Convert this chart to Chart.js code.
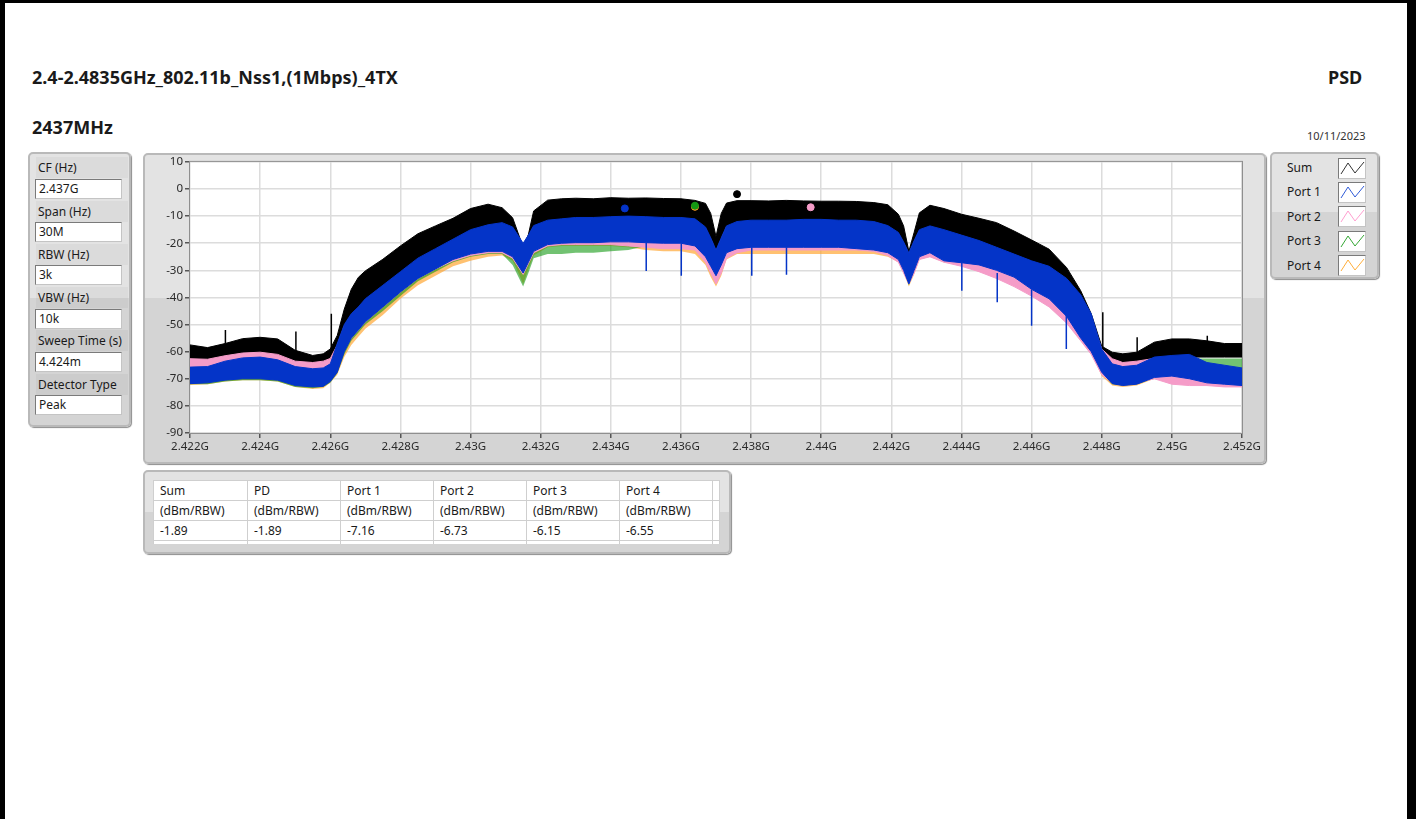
<!DOCTYPE html>
<html>
<head>
<meta charset="utf-8">
<script src="https://cdn.jsdelivr.net/npm/chart.js@4.4.0/dist/chart.umd.min.js"></script>
<style>
  body { margin: 0; background: #fff; font-family: "Noto Sans", sans-serif; color: #1a1a1a; }
  #page { position: relative; width: 1416px; height: 819px; overflow: hidden; background: #fff; }
  .bar { position: absolute; background: #000; }
  .txt { position: absolute; white-space: nowrap; line-height: 20px; height: 20px; }
  .big { font-weight: bold; font-size: 18px; }
  .panel { position: absolute; box-sizing: border-box; border: 2px solid #b9b9b9; border-radius: 5px;
           box-shadow: 1px 1px 1px #8c8c8c; }
  .lbl { position: absolute; left: 6px; width: 90px; height: 21px; line-height: 21px; font-size: 12px; padding-left: 2px;
         background: rgba(0,0,0,0.035); }
  .val { position: absolute; left: 5px; width: 87px; height: 20px; box-sizing: border-box; background: #fff;
         border: 1px solid #7a7a7a; border-right-color: #c4c4c4; border-bottom-color: #c4c4c4;
         font-size: 12px; line-height: 18px; padding-left: 3px; }
  .leg { position: absolute; left: 15px; font-size: 12px; line-height: 20px; }
  .sw { position: absolute; left: 66px; width: 28px; height: 21px; box-sizing: border-box; background: #fff;
        border: 1px solid #7a7a7a; border-right-color: #c4c4c4; border-bottom-color: #c4c4c4; }
  table { position: absolute; left: 8px; top: 8px; border-collapse: collapse; background: #fff; font-size: 12px; }
  td { border: 1px solid #cfcfcf; height: 20px; padding: 0 0 0 6px; line-height: 19px; box-sizing: border-box; }
  #psd { position: absolute; left: 143px; top: 153px; }
</style>
</head>
<body>
<div id="page">
  <div class="bar" style="left:0;top:0;width:1416px;height:3px"></div>
  <div class="bar" style="left:0;top:0;width:5px;height:819px"></div>
  <div class="bar" style="left:1407px;top:0;width:9px;height:819px"></div>

  <div class="txt big" style="left:32px;top:67px">2.4-2.4835GHz_802.11b_Nss1,(1Mbps)_4TX</div>
  <div class="txt big" style="left:1328px;top:67px">PSD</div>
  <div class="txt big" style="left:32px;top:117px">2437MHz</div>
  <div class="txt" style="left:1307px;top:126px;font-size:11px;color:#333">10/11/2023</div>

  <!-- settings panel -->
  <div class="panel" style="left:28px;top:152px;width:103px;height:275px;background:linear-gradient(#e3e3e3 0,#e3e3e3 144px,#d4d4d4 144px)">
    <div class="lbl" style="top:3px">CF (Hz)</div>
    <div class="val" style="top:25px">2.437G</div>
    <div class="lbl" style="top:47px">Span (Hz)</div>
    <div class="val" style="top:68px">30M</div>
    <div class="lbl" style="top:90px">RBW (Hz)</div>
    <div class="val" style="top:111px">3k</div>
    <div class="lbl" style="top:133px">VBW (Hz)</div>
    <div class="val" style="top:155px">10k</div>
    <div class="lbl" style="top:176px">Sweep Time (s)</div>
    <div class="val" style="top:198px">4.424m</div>
    <div class="lbl" style="top:220px">Detector Type</div>
    <div class="val" style="top:241px">Peak</div>
  </div>

  <!-- graph panel -->
  <div class="panel" style="left:143px;top:153px;width:1123px;height:311px;background:linear-gradient(#e3e3e3 0,#e3e3e3 143px,#d4d4d4 143px)"></div>
  <canvas id="psd" width="1122" height="310"></canvas>

  <!-- legend panel -->
  <div class="panel" style="left:1270px;top:152px;width:109px;height:127px;background:linear-gradient(#e3e3e3 0,#e3e3e3 58px,#d4d4d4 58px)" id="legend"></div>

  <!-- peak table -->
  <div class="panel" style="left:143px;top:470px;width:588px;height:84px;background:linear-gradient(#e3e3e3 0,#e3e3e3 40px,#d4d4d4 40px)">
    <table id="peaks"></table>
  </div>
</div>

<script>
// frequency axis (GHz) and envelopes (dBm)
const FREQ = [
  2.422, 2.4225, 2.423, 2.4235, 2.424, 2.4245, 2.425, 2.4255,
  2.4258, 2.426, 2.4262, 2.4264, 2.4266, 2.4268, 2.427,
  2.4275, 2.428, 2.4285, 2.429, 2.4295, 2.430, 2.4305,
  2.4309, 2.4312, 2.43135, 2.4315, 2.43165, 2.4318,
  2.4322, 2.4326, 2.433, 2.4335, 2.434, 2.4345, 2.435, 2.4355, 2.436,
  2.4364, 2.4367, 2.43685, 2.437, 2.43715, 2.4373, 2.4376,
  2.438, 2.4385, 2.439, 2.4395, 2.440, 2.4405, 2.441, 2.4415,
  2.4419, 2.4422, 2.44235, 2.4425, 2.44265, 2.4428, 2.4431, 2.4435,
  2.444, 2.4445, 2.445, 2.4455, 2.446, 2.4465, 2.447,
  2.4474, 2.4477, 2.448, 2.4483, 2.4486, 2.449,
  2.4495, 2.450, 2.4505, 2.451, 2.4515, 2.452
];

const SUM_TOP = [
  -57.5, -58.5, -57, -55.2, -54.7, -55.3, -59.5, -61.4,
  -60.8, -59, -54, -44.3, -37, -32.6, -30.2,
  -25.9, -21, -16.5, -13.6, -10.8, -7.2, -5.6,
  -6.9, -10.6, -16, -21.5, -16.8, -8.1,
  -4.1, -3.6, -3.4, -3.6, -3.2, -3.4, -3.3, -3.5, -3.6,
  -4.2, -5.3, -9, -17.5, -9, -5.2, -4.3,
  -4.3, -4.4, -4.2, -4.4, -4.5, -4.5, -4.6, -5.0,
  -5.8, -9.3, -13.6, -23, -16, -8.8, -6.0, -7.2,
  -9.3, -10.8, -12.4, -15.5, -18.8, -22.2, -29,
  -37.5, -46, -58, -60.2, -60.8, -60.2,
  -56.5, -55.3, -55.3, -56, -57, -57
];
const SUM_BOT = [
  -68.7, -68.5, -66.5, -65.3, -65, -66, -68.5, -69.3,
  -69, -67.5, -60, -53, -49, -46.5, -43.5,
  -38.5, -33.5, -28.5, -25, -21.5, -18, -16.2,
  -15.4, -17, -20, -23, -20, -16.5,
  -14.5, -14, -13.5, -13.5, -13.2, -13, -13.2, -13.5, -13.5,
  -14, -17, -21, -25.5, -21, -16.6, -15,
  -14.5, -14.5, -14.5, -14.2, -14.2, -14.5, -14.5, -15,
  -16.5, -19, -22.5, -26.6, -22, -18, -16.6, -18,
  -20, -22, -24.5, -27, -29.5, -31.5, -36,
  -42, -49, -62, -67.5, -68.5, -68,
  -63.5, -62.5, -62, -62, -62, -62
];
const P1_TOP = [
  -65.7, -65.5, -63.5, -62.3, -62, -63, -65.5, -66.3,
  -66, -64.5, -57, -50, -46, -43.5, -40.5,
  -35.5, -30.5, -25.5, -22, -18.5, -15, -13.2,
  -12.4, -14, -17, -20, -17, -13.5,
  -11.5, -11, -10.5, -10.5, -10.2, -10, -10.2, -10.5, -10.5,
  -11, -14, -18, -22.5, -18, -13.6, -12,
  -11.5, -11.5, -11.5, -11.2, -11.2, -11.5, -11.5, -12,
  -13.5, -16, -19.5, -23.6, -19, -15, -13.6, -15,
  -17, -19, -21.5, -24, -26.5, -28.5, -33,
  -39, -46, -59, -64.5, -65.5, -65,
  -62, -61.4, -61, -64, -65, -66
];
const P1_BOT = [
  -71.8, -71.5, -70.5, -70, -70, -70.5, -72.5, -73,
  -72.8, -71, -67.6, -60, -55, -52, -49,
  -43.5, -38, -33, -29.5, -26, -24, -23,
  -23, -25, -28, -31, -27, -23,
  -20.5, -20, -19.8, -19.8, -19.5, -19.5, -19.8, -20, -20,
  -21, -25, -28.5, -32, -28, -23.5, -22,
  -21.5, -21.5, -21.5, -21.5, -21.5, -21.5, -22, -22.5,
  -23.5, -26, -30, -35, -30, -25, -23.5, -26.5,
  -27.2, -28, -30, -32.5, -37, -40.5, -47,
  -55, -60, -67.6, -71.8, -72.5, -72,
  -69.5, -69, -70, -71.5, -72, -72.5
];
const P2_TOP = [
  -62.6, -62.8, -61.5, -60.5, -60.2, -61, -63.5, -64,
  -63.5, -62.5, -57.5, -50.5, -46.5, -44, -41,
  -36, -31, -26, -22.5, -19, -15.5, -13.8,
  -13, -14.5, -17.5, -20.5, -17.5, -14,
  -12, -11.5, -11, -11, -10.8, -10.6, -10.8, -11, -11,
  -11.5, -14.5, -18.5, -23, -18.5, -14, -12.5,
  -12, -12, -12, -11.8, -11.8, -12, -12, -12.5,
  -14, -16.5, -20, -24, -19.5, -15.5, -14, -15.5,
  -17.5, -19.5, -22, -24.5, -27.5, -30, -34.5,
  -40.5, -47.5, -59, -62.6, -64, -63.5,
  -62.5, -62, -63, -66, -66.5, -67
];
const P2_BOT = [
  -69, -69, -68.5, -68, -68, -68.5, -70, -70.5,
  -70, -69, -66, -59, -55, -52, -49,
  -43.5, -38, -33, -29.5, -26.5, -24.5, -23.5,
  -23.5, -25.5, -28.5, -31.5, -27.5, -23.5,
  -21, -20.5, -20.5, -20.5, -20.5, -21, -21.5, -22, -22,
  -22.5, -27, -31, -35, -31, -25.5, -23.5,
  -22.5, -22.5, -22.5, -22.5, -22.5, -22.5, -22.5, -23,
  -24.5, -27, -31, -35, -31, -26, -25, -27,
  -28.5, -30.5, -33, -36, -39.5, -43.5, -49.5,
  -56, -61, -68.5, -71.5, -72, -71.5,
  -70, -72, -72.5, -72.5, -73, -73
];
const P3_TOP = [
  -66.5, -66.5, -64.5, -63.5, -63, -64, -66.5, -67,
  -67, -65.5, -58, -51, -47, -44.5, -41.5,
  -36.5, -31.5, -26.5, -23, -19.5, -16, -14.2,
  -13.4, -15, -18, -21, -18, -14.5,
  -12.5, -12, -11.5, -11.5, -11.2, -11, -11.2, -11.5, -11.5,
  -12, -15, -19, -23.5, -19, -14.6, -13,
  -12.5, -12.5, -12.5, -12.2, -12.2, -12.5, -12.5, -13,
  -14.5, -17, -20.5, -24.6, -20, -16, -14.6, -16,
  -18, -20, -22.5, -25, -27.5, -29.5, -34,
  -40, -47, -60, -64.5, -65, -64,
  -63, -63, -62.5, -62.5, -62.5, -62.5
];
const P3_BOT = [
  -72, -72, -71, -70.5, -70.5, -71, -73, -73.5,
  -73, -71.5, -68, -61, -56, -53, -50,
  -45, -39.5, -34, -30.5, -27, -25, -24,
  -24, -28, -32, -36, -31, -25.5,
  -24, -24, -23.5, -23.5, -23, -22.5, -21, -21, -21,
  -22, -26, -29.5, -33, -29, -24.5, -22.5,
  -22, -22, -22, -22, -22, -22, -22.5, -23,
  -24, -26.5, -30.5, -35.5, -30.5, -25.5, -24, -27,
  -27.5, -28.5, -30.5, -33, -37.5, -41, -47.5,
  -55.5, -60.5, -68, -72, -72.5, -72,
  -70, -69.5, -70.5, -72, -72.5, -73
];
const P4_TOP = [
  -67, -67, -65, -64, -63.5, -64.5, -67, -67.5,
  -67.5, -66, -58.5, -51.5, -47.5, -45, -42,
  -37, -32, -27, -23.5, -20, -16.5, -14.7,
  -14, -15.5, -18.5, -21.5, -18.5, -15,
  -13, -12.5, -12, -12, -11.7, -11.5, -11.7, -12, -12,
  -12.5, -15.5, -19.5, -24, -19.5, -15, -13.5,
  -13, -13, -13, -12.7, -12.7, -13, -13, -13.5,
  -15, -17.5, -21, -25, -20.5, -16.5, -15, -16.5,
  -18.5, -20.5, -23, -25.5, -28, -30, -34.5,
  -40.5, -47.5, -60.5, -65.5, -66.5, -66,
  -63.5, -63, -64, -65.5, -66.5, -67
];
const P4_BOT = [
  -72.3, -72, -71, -70.5, -70.5, -71, -73, -73.8,
  -73.5, -71.5, -68.5, -62, -57.5, -54.5, -51.5,
  -46.5, -40.5, -35.5, -32, -28.5, -26.5, -25,
  -24.5, -26.5, -30.5, -35, -29.5, -24.5,
  -21.5, -21, -21, -21, -21, -21.5, -22.5, -23, -23,
  -24, -28, -32.5, -36, -32, -26, -24,
  -24, -24, -24, -24, -24, -24, -24, -24,
  -25, -27, -31, -36, -31.5, -26, -25, -27,
  -27.5, -28.5, -30.5, -33, -37.5, -41, -47.5,
  -55.5, -60.5, -69, -72.5, -73, -72.5,
  -70, -70, -71, -72, -72.5, -73
];

// isolated spikes: frequency, start and end level
const SUM_SPIKE_F    = [2.42301, 2.42502, 2.42603, 2.44803, 2.44901, 2.45101];
const SUM_SPIKE_FROM = [-57, -60.5, -59, -58.5, -60.5, -56.5];
const SUM_SPIKE_TO   = [-52, -52.6, -46, -45.5, -54.7, -54.1];
const P1_SPIKE_F    = [2.43501, 2.43601, 2.43802, 2.43901, 2.44401, 2.44502, 2.44600, 2.44699];
const P1_SPIKE_FROM = [-19.8, -20, -21.5, -21.5, -27, -31, -37, -46];
const P1_SPIKE_TO   = [-30.2, -32, -32, -31.6, -37.5, -41.8, -50.4, -59];

// peak markers
const MARK_F  = [2.4376, 2.4344, 2.4397, 2.4364, 2.4364];
const MARK_DB = [-1.89, -7.16, -6.73, -6.15, -6.55];

const X_TICKS = [2.422, 2.424, 2.426, 2.428, 2.43, 2.432, 2.434, 2.436, 2.438, 2.44, 2.442, 2.444, 2.446, 2.448, 2.45, 2.452];
const Y_TICKS = [10, 0, -10, -20, -30, -40, -50, -60, -70, -80, -90];

const TABLE_HEAD = ['Sum', 'PD', 'Port 1', 'Port 2', 'Port 3', 'Port 4'];
const TABLE_VALS = [-1.89, -1.89, -7.16, -6.73, -6.15, -6.55];

const COLORS = { sum: '#000000', p1: '#0434c8', p2: '#f59cc8', p3: '#149a14', p4: '#ffa024' };
const LEGEND = [['Sum', '#333333'], ['Port 1', '#2f5bd8'], ['Port 2', '#ff9fd0'], ['Port 3', '#35a835'], ['Port 4', '#ffae3a']];

// build a filled band (top + bottom datasets)
function band(top, bot, color, fillStyle, edge, order) {
    return [
        { data: FREQ.map((f, i) => ({ x: f, y: top[i] })), borderColor: color, backgroundColor: fillStyle,
          borderWidth: edge, fill: '+1', order: order },
        { data: FREQ.map((f, i) => ({ x: f, y: bot[i] })), borderColor: color, borderWidth: edge,
          fill: false, order: order }
    ];
}
function spikes(fs, from, to, color, order) {
    const pts = [];
    fs.forEach((f, i) => { pts.push({ x: f, y: from[i] }, { x: f, y: to[i] }, { x: f, y: null }); });
    return { data: pts, borderColor: color, borderWidth: 1.5, fill: false, spanGaps: false, order: order };
}

const markColors = [COLORS.sum, COLORS.p1, COLORS.p2, COLORS.p3, COLORS.p4];
const markerSets = MARK_F.map((f, i) => ({
    data: [{ x: f, y: MARK_DB[i] }], showLine: false, pointRadius: 3.5,
    pointBackgroundColor: markColors[i], pointBorderColor: markColors[i], order: i === 4 ? 1 : 0
}));

// the green/orange fringes are sparse trace lines in the original, so they get a lighter fill
const datasets = [].concat(
    markerSets,
    [spikes(P1_SPIKE_F, P1_SPIKE_FROM, P1_SPIKE_TO, COLORS.p1, 2)],
    band(P1_TOP, P1_BOT, COLORS.p1, COLORS.p1, 1, 3),
    band(P2_TOP, P2_BOT, COLORS.p2, COLORS.p2, 1, 4),
    band(P3_TOP, P3_BOT, COLORS.p3, 'rgba(20,154,20,0.6)', 0, 5),
    band(P4_TOP, P4_BOT, COLORS.p4, 'rgba(255,160,36,0.65)', 0, 6),
    [spikes(SUM_SPIKE_F, SUM_SPIKE_FROM, SUM_SPIKE_TO, COLORS.sum, 7)],
    band(SUM_TOP, SUM_BOT, COLORS.sum, COLORS.sum, 1, 8)
);

// white plot area + thin frame
const plotArea = {
    id: 'plotArea',
    beforeDatasetsDraw(chart) {
        const a = chart.chartArea, c = chart.ctx;
        c.save();
        c.globalCompositeOperation = 'destination-over';
        c.fillStyle = '#ffffff';
        c.fillRect(a.left, a.top, a.right - a.left, a.bottom - a.top);
        c.restore();
    },
    afterDatasetsDraw(chart) {
        const a = chart.chartArea, c = chart.ctx;
        c.save();
        c.strokeStyle = '#8f8f8f';
        c.lineWidth = 1;
        c.strokeRect(a.left - 0.5, a.top - 0.5, a.right - a.left + 1, a.bottom - a.top + 1);
        c.restore();
    }
};

const tickFont = { family: 'Noto Sans', size: 11.5 };
new Chart(document.getElementById('psd').getContext('2d'), {
    type: 'line',
    data: { datasets: datasets },
    options: {
        responsive: false,
        animation: false,
        devicePixelRatio: 1,
        layout: { padding: { left: 0, right: 23, top: 8, bottom: 0 } },
        elements: { point: { radius: 0 }, line: { tension: 0 } },
        plugins: { legend: { display: false }, tooltip: { enabled: false } },
        scales: {
            x: {
                type: 'linear', min: 2.422, max: 2.452,
                afterBuildTicks: s => { s.ticks = X_TICKS.map(v => ({ value: v })); },
                afterFit: s => { s.height = 30; },
                ticks: { callback: v => parseFloat(v.toFixed(3)) + 'G', color: '#2a2a2a', font: tickFont,
                         padding: 2, maxRotation: 0, autoSkip: false },
                grid: { color: '#dcdcdc', lineWidth: 1.5, tickColor: '#555', tickLength: 5 },
                border: { display: false }
            },
            y: {
                min: -90, max: 10,
                afterBuildTicks: s => { s.ticks = Y_TICKS.map(v => ({ value: v })); },
                afterFit: s => { s.width = 47; },
                ticks: { color: '#2a2a2a', font: tickFont, padding: 2 },
                grid: { color: '#dcdcdc', lineWidth: 1.5, tickColor: '#555', tickLength: 5 },
                border: { display: false }
            }
        }
    },
    plugins: [plotArea]
});

// legend panel
const legendBox = document.getElementById('legend');
LEGEND.forEach(([name, color], i) => {
    const top = 4 + i * 24.4;
    legendBox.insertAdjacentHTML('beforeend',
        `<div class="leg" style="top:${top}px">${name}</div>` +
        `<div class="sw" style="top:${top - 0.5}px"><svg width="26" height="19"><polyline points="2,15 9,4 16,14 25,3" fill="none" stroke="${color}" stroke-width="1"/></svg></div>`);
});

// peak table
const widths = [94, 93, 93, 93, 93, 93, 7];
const rows = [TABLE_HEAD.concat(['']), TABLE_HEAD.map(() => '(dBm/RBW)').concat(['']),
              TABLE_VALS.map(v => v.toFixed(2)).concat([''])];
document.getElementById('peaks').innerHTML = rows.map(r =>
    '<tr>' + r.map((t, j) => `<td style="width:${widths[j]}px">${t}</td>`).join('') + '</tr>').join('') +
    '<tr>' + widths.map(w => `<td style="width:${w}px;height:3px;border-bottom:none"></td>`).join('') + '</tr>';
</script>
</body>
</html>
